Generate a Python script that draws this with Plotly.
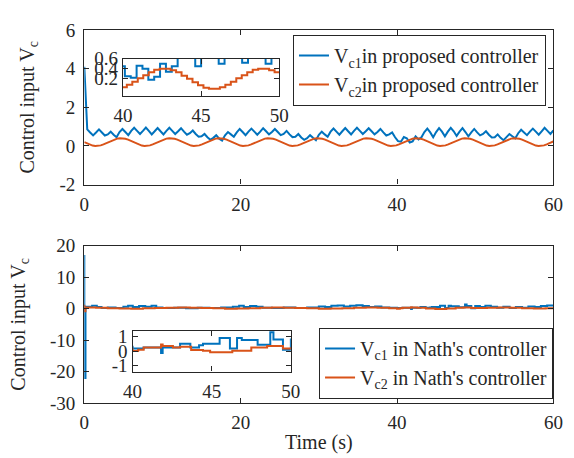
import numpy as np
import plotly.graph_objects as go

# ---------------- Data ----------------
# Top panel: proposed controller (sampled on a regular grid)
t_top_blue = np.round(np.arange(161) * 0.375, 3)
vc1_proposed = [
    4.10, 0.86, 0.70, 0.55,
    0.70, 0.86, 0.70, 0.54,
    0.60, 0.74, 0.58, 0.45,
    0.72, 0.88, 0.72, 0.56,
    0.78, 0.94, 0.78, 0.62,
    0.78, 0.95, 0.78, 0.60,
    0.76, 0.93, 0.76, 0.60,
    0.78, 0.94, 0.78, 0.62,
    0.76, 0.92, 0.74, 0.58,
    0.66, 0.80, 0.62, 0.48,
    0.50, 0.62, 0.45, 0.32,
    0.42, 0.56, 0.38, 0.28,
    0.55, 0.72, 0.60, 0.48,
    0.70, 0.88, 0.72, 0.56,
    0.74, 0.90, 0.74, 0.58,
    0.74, 0.92, 0.76, 0.60,
    0.72, 0.88, 0.72, 0.56,
    0.62, 0.78, 0.60, 0.46,
    0.48, 0.62, 0.44, 0.32,
    0.40, 0.56, 0.42, 0.30,
    0.58, 0.74, 0.60, 0.48,
    0.74, 0.90, 0.74, 0.58,
    0.76, 0.93, 0.76, 0.60,
    0.78, 0.94, 0.78, 0.62,
    0.76, 0.92, 0.76, 0.60,
    0.72, 0.88, 0.70, 0.54,
    0.60, 0.70, 0.45, 0.25,
    0.22, 0.46, 0.40, 0.18,
    0.24, 0.50, 0.34, 0.45,
    0.72, 0.90, 0.70, 0.45,
    0.72, 0.92, 0.74, 0.50,
    0.74, 0.94, 0.76, 0.52,
    0.74, 0.92, 0.72, 0.50,
    0.70, 0.88, 0.70, 0.55,
    0.62, 0.76, 0.58, 0.44,
    0.45, 0.60, 0.42, 0.30,
    0.46, 0.62, 0.50, 0.40,
    0.66, 0.84, 0.70, 0.56,
    0.74, 0.90, 0.74, 0.58,
    0.76, 0.94, 0.78, 0.62,
    0.80,
]

t_top_orange = np.round(np.arange(173) * 0.35, 3)
vc2_proposed = [
    0.20, 0.13, 0.07, 0.02, 0.00, 0.00, 0.03, 0.08, 0.14, 0.21, 0.27, 0.33, 0.38, 0.40, 0.40, 0.37, 0.33, 0.26,
    0.20, 0.13, 0.07, 0.02, 0.00, 0.00, 0.03, 0.08, 0.14, 0.21, 0.27, 0.33, 0.38, 0.40, 0.40, 0.37, 0.33, 0.26,
    0.20, 0.13, 0.07, 0.02, 0.00, 0.00, 0.03, 0.08, 0.14, 0.21, 0.27, 0.33, 0.38, 0.40, 0.40, 0.37, 0.33, 0.26,
    0.20, 0.13, 0.07, 0.02, 0.00, 0.00, 0.03, 0.08, 0.14, 0.21, 0.27, 0.33, 0.38, 0.40, 0.40, 0.37, 0.33, 0.26,
    0.20, 0.13, 0.07, 0.02, 0.00, 0.00, 0.03, 0.08, 0.14, 0.21, 0.27, 0.33, 0.38, 0.40, 0.40, 0.37, 0.33, 0.26,
    0.20, 0.13, 0.07, 0.02, 0.00, 0.00, 0.03, 0.08, 0.14, 0.21, 0.27, 0.33, 0.38, 0.40, 0.40, 0.37, 0.33, 0.26,
    0.20, 0.13, 0.07, 0.02, 0.00, 0.00, 0.03, 0.08, 0.14, 0.21, 0.27, 0.33, 0.38, 0.40, 0.40, 0.37, 0.33, 0.26,
    0.20, 0.13, 0.07, 0.02, 0.00, 0.00, 0.03, 0.08, 0.14, 0.21, 0.27, 0.33, 0.38, 0.40, 0.40, 0.37, 0.33, 0.26,
    0.20, 0.13, 0.07, 0.02, 0.00, 0.00, 0.03, 0.08, 0.14, 0.21, 0.27, 0.33, 0.38, 0.40, 0.40, 0.37, 0.33, 0.26,
    0.20, 0.13, 0.07, 0.02, 0.00, 0.00, 0.03, 0.08, 0.14, 0.21, 0.27,
]

# Bottom panel: Nath's controller (step-change instants and held values)
t_nath_blue = [0, 0, 0.15, 1.0, 1.6, 2.2, 3.0, 4.0, 5.0, 5.6, 6.2, 7.0, 7.8, 8.6, 9.2, 10.0, 11.5, 13.0,
               14.5, 16.0, 17.5, 19.0, 19.8, 20.4, 21.2, 22.0, 22.8, 24.0, 25.5, 27.0, 28.5, 30.0, 30.8,
               31.6, 32.4, 33.2, 34.0, 34.8, 35.6, 36.4, 37.2, 38.0, 39.0, 40.0, 40.7, 41.8, 41.9, 43.0,
               43.65, 44.2, 44.45, 45.5, 46.15, 46.6, 46.9, 47.9, 48.7, 48.9, 49.5, 50.0, 50.6, 51.3,
               52.0, 52.8, 53.6, 54.4, 55.2, 56.0, 56.8, 57.6, 58.4, 59.2, 60.0]
vc1_nath = [17.0, -22.0, 0.6, 0.9, 0.5, 0.2, 0.4, 0.2, 0.6, 0.9, 0.5, 0.8, 0.6, 0.9, 0.4, 0.2, 0.3, 0.1,
            0.3, 0.2, 0.4, 0.6, 0.9, 0.5, 0.8, 0.6, 0.3, 0.2, 0.35, 0.2, 0.4, 0.7, 0.5,
            0.9, 1.0, 0.7, 0.9, 1.1, 0.8, 0.5, 0.7, 0.4, 0.3, 0.17, 0.25, -0.13, 0.25, 0.5,
            0.25, 0.4, 0.5, 0.89, 0.17, 0.89, 0.75, 0.44, 1.28, 0.8, 0.1, 0.8, 0.5, 0.9,
            0.6, 0.3, 0.6, 0.2, 0.5, 0.3, 0.7, 0.5, 0.8, 1.0, 1.0]

t_nath_orange = [0, 0, 0.15, 1.5, 3.0, 4.5, 6.0, 7.5, 9.0, 10.5, 12.0, 13.5, 15.0, 16.5, 18.0, 19.5,
                 21.0, 22.5, 24.0, 25.5, 27.0, 28.5, 30.0, 31.5, 33.0, 34.5, 36.0, 37.5, 39.0, 40.0,
                 40.35, 40.7, 41.8, 41.9, 42.55, 43.0, 43.7, 44.45, 44.9, 46.3, 47.5, 48.5, 49.5,
                 50.0, 51.5, 53.0, 54.5, 56.0, 57.5, 59.0, 60.0]
vc2_nath = [1.2, -0.8, 0.35, 0.25, 0.15, 0.05, 0.0, 0.1, 0.2, 0.3, 0.35, 0.3, 0.2, 0.1, 0.0, 0.05,
            0.15, 0.25, 0.35, 0.3, 0.2, 0.1, 0.0, 0.05, 0.15, 0.25, 0.35, 0.3, 0.15, 0.0,
            0.1, 0.25, 0.45, 0.35, 0.25, 0.3, 0.07, 0.03, -0.08, 0.03, 0.25, 0.35, 0.17,
            0.2, 0.3, 0.35, 0.25, 0.15, 0.05, 0.1, 0.15]

# Tick labels
x_ticks = [0, 20, 40, 60]
x_ticklabels = ["0", "20", "40", "60"]
y_top_ticks = [-2, 0, 2, 4, 6]
y_top_ticklabels = ["-2", "0", "2", "4", "6"]
y_bot_ticks = [-30, -20, -10, 0, 10, 20]
y_bot_ticklabels = ["-30", "-20", "-10", "0", "10", "20"]
inset_x_ticks = [40, 45, 50]
inset_x_ticklabels = ["40", "45", "50"]
inset_top_y_ticks = [0.2, 0.4, 0.6]
inset_top_y_ticklabels = ["0.2", "0.4", "0.6"]
inset_bot_y_ticks = [-1, 0, 1]
inset_bot_y_ticklabels = ["-1", "0", "1"]

# ---------------- Styling ----------------
BLUE = "#0072BD"
ORANGE = "#D95319"
AX = "#262626"
FONT = "Liberation Serif"
FS = 19
FS_LEG = 20
FS_TITLE = 20
W, H = 574, 458


def px_dom_x(a, b):
    return [a / W, b / W]


def px_dom_y(top, bottom):
    return [1 - bottom / H, 1 - top / H]


def axis_style(**kw):
    d = dict(showline=True, linecolor=AX, linewidth=1.3, mirror="ticks",
             ticks="inside", ticklen=5, tickwidth=1.2, tickcolor=AX,
             showgrid=False, zeroline=False,
             tickfont=dict(family=FONT, size=FS, color=AX))
    d.update(kw)
    return d


fig = go.Figure()

# Top main
fig.add_trace(go.Scatter(x=t_top_blue, y=vc1_proposed, mode="lines",
                         line=dict(color=BLUE, width=2),
                         name="V<sub>c1</sub>in proposed controller",
                         xaxis="x", yaxis="y", legend="legend"))
fig.add_trace(go.Scatter(x=t_top_orange, y=vc2_proposed, mode="lines",
                         line=dict(color=ORANGE, width=2),
                         name="V<sub>c2</sub>in proposed controller",
                         xaxis="x", yaxis="y", legend="legend"))
# Top inset
fig.add_trace(go.Scatter(x=t_top_blue, y=vc1_proposed, mode="lines", line_shape="hv",
                         line=dict(color=BLUE, width=2), showlegend=False,
                         xaxis="x3", yaxis="y3"))
fig.add_trace(go.Scatter(x=t_top_orange, y=vc2_proposed, mode="lines", line_shape="hv",
                         line=dict(color=ORANGE, width=2), showlegend=False,
                         xaxis="x3", yaxis="y3"))
# Bottom main
fig.add_trace(go.Scatter(x=t_nath_blue, y=vc1_nath, mode="lines", line_shape="hv",
                         line=dict(color=BLUE, width=2),
                         name="V<sub>c1</sub> in Nath's controller",
                         xaxis="x2", yaxis="y2", legend="legend2"))
fig.add_trace(go.Scatter(x=t_nath_orange, y=vc2_nath, mode="lines", line_shape="hv",
                         line=dict(color=ORANGE, width=2),
                         name="V<sub>c2</sub> in Nath's controller",
                         xaxis="x2", yaxis="y2", legend="legend2"))
# Bottom inset
fig.add_trace(go.Scatter(x=t_nath_blue, y=vc1_nath, mode="lines", line_shape="hv",
                         line=dict(color=BLUE, width=2), showlegend=False,
                         xaxis="x4", yaxis="y4"))
fig.add_trace(go.Scatter(x=t_nath_orange, y=vc2_nath, mode="lines", line_shape="hv",
                         line=dict(color=ORANGE, width=2), showlegend=False,
                         xaxis="x4", yaxis="y4"))

title_font = dict(family=FONT, size=FS_TITLE, color=AX)

fig.update_layout(
    width=W, height=H,
    margin=dict(l=0, r=0, t=0, b=0),
    paper_bgcolor="white", plot_bgcolor="white",
    font=dict(family=FONT, size=FS, color=AX),
    xaxis=axis_style(domain=px_dom_x(77, 563), anchor="y", range=[0, 60],
                     tickvals=x_ticks, ticktext=x_ticklabels, ticklabelstandoff=2),
    yaxis=axis_style(domain=px_dom_y(21, 183), anchor="x", range=[-2, 6],
                     tickvals=y_top_ticks, ticktext=y_top_ticklabels, ticklabelstandoff=4,
                     title=dict(text="Control input V<sub>c</sub>", font=title_font, standoff=19)),
    xaxis2=axis_style(domain=px_dom_x(77, 563), anchor="y2", range=[0, 60],
                      tickvals=x_ticks, ticktext=x_ticklabels, ticklabelstandoff=2,
                      title=dict(text="Time (s)", font=title_font, standoff=2)),
    yaxis2=axis_style(domain=px_dom_y(247, 412), anchor="x2", range=[-30, 20],
                      tickvals=y_bot_ticks, ticktext=y_bot_ticklabels, ticklabelstandoff=4,
                      title=dict(text="Control input V<sub>c</sub>", font=title_font, standoff=19)),
    xaxis3=axis_style(domain=px_dom_x(117, 279), anchor="y3", range=[40, 50],
                      tickvals=inset_x_ticks, ticktext=inset_x_ticklabels, ticklabelstandoff=2),
    yaxis3=axis_style(domain=px_dom_y(51, 90), anchor="x3", range=[-0.14, 0.6],
                      tickvals=inset_top_y_ticks, ticktext=inset_top_y_ticklabels),
    xaxis4=axis_style(domain=px_dom_x(127, 291), anchor="y4", range=[40, 50],
                      tickvals=inset_x_ticks, ticktext=inset_x_ticklabels, ticklabelstandoff=2),
    yaxis4=axis_style(domain=px_dom_y(336, 379), anchor="x4", range=[-1.4, 1.4],
                      tickvals=inset_bot_y_ticks, ticktext=inset_bot_y_ticklabels),
    legend=dict(x=293 / W, y=1 - 26 / H, xanchor="left", yanchor="top",
                bgcolor="white", bordercolor=AX, borderwidth=1.2,
                font=dict(family=FONT, size=FS_LEG, color=AX), itemwidth=30,
                tracegroupgap=0),
    legend2=dict(x=320 / W, y=1 - 333 / H, xanchor="left", yanchor="top",
                 bgcolor="white", bordercolor=AX, borderwidth=1.2,
                 font=dict(family=FONT, size=FS_LEG, color=AX), itemwidth=30,
                 tracegroupgap=0),
)

fig.write_html("out.html")
